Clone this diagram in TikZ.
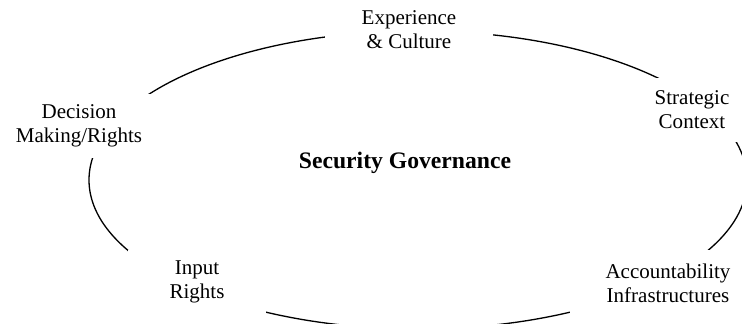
\documentclass[tikz,border=0pt]{standalone}
\usepackage{fontspec}
\setmainfont{Liberation Serif}
\usepackage{tikz}

\begin{document}
\begin{tikzpicture}[x=0.571pt,y=-0.571pt,font=\fontsize{12}{13.8}\selectfont,
  lbl/.style={fill=white,align=center,inner sep=0pt}]
  \clip (0,0) rectangle (742,324);

  % Ring
  \draw[line width=0.75pt] (418,180) ellipse [x radius=329, y radius=149];

  % Experience & Culture
  \node[lbl,minimum width=96pt,minimum height=29pt] (exp) at (409,30)
    {Experience\\\& Culture};

  % Strategic Context
  \node[lbl,minimum width=55pt,minimum height=37pt] (strat) at (692,110)
    {Strategic\\Context};

  % Decision Making/Rights
  \node[lbl,minimum width=84.5pt,minimum height=37pt] (dec) at (79,126)
    {Decision\\Making/Rights};

  % Input Rights
  \node[lbl,minimum width=79pt,minimum height=37pt] (inp) at (197,282)
    {Input\\Rights};

  % Accountability Infrastructures
  \node[lbl,minimum width=112pt,minimum height=37.7pt] (acc) at (668,283)
    {Accountability\\Infrastructures};

  % Security Governance
  \node[font=\fontsize{13.5}{16}\selectfont\bfseries] (gov) at (405,163)
    {Security Governance};
\end{tikzpicture}
\end{document}
